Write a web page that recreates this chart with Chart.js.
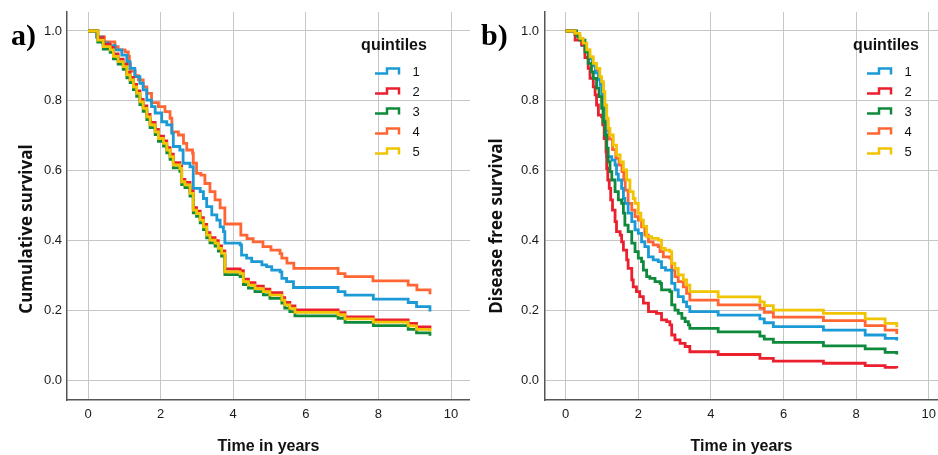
<!DOCTYPE html>
<html>
<head>
<meta charset="utf-8">
<script src="https://cdn.jsdelivr.net/npm/chart.js@4.4.0/dist/chart.umd.min.js"></script>
<style>
  body { margin: 0; background: #fff; }
  #wrap { position: relative; width: 938px; height: 455px; }
  #wrap canvas { position: absolute; top: 0; }
</style>
</head>
<body>
<div id="wrap">
  <canvas id="chartA" width="470" height="455" style="left:0"></canvas>
  <canvas id="chartB" width="468" height="455" style="left:470px"></canvas>
</div>
<script>
// quintile labels and colours
const quintiles = ["1", "2", "3", "4", "5"];
const colors = ["#1b9ad6", "#ec1f2e", "#0f8a3c", "#ff6633", "#f0c400"];

// a) cumulative survival, [years, survival]
const survA1 = [[0,1],[0.24,0.982],[0.4,0.966],[0.56,0.958],[0.75,0.946],[0.93,0.931],[1.07,0.912],[1.16,0.893],[1.29,0.869],[1.43,0.85],[1.52,0.831],[1.62,0.802],[1.75,0.783],[1.85,0.765],[2.03,0.74],[2.17,0.731],[2.31,0.707],[2.35,0.669],[2.53,0.659],[2.62,0.621],[2.81,0.611],[2.9,0.549],[3.09,0.54],[3.18,0.52],[3.27,0.497],[3.41,0.473],[3.55,0.458],[3.64,0.439],[3.73,0.425],[3.77,0.392],[4.19,0.387],[4.23,0.358],[4.37,0.349],[4.51,0.339],[4.79,0.33],[4.92,0.325],[5.06,0.315],[5.29,0.31],[5.34,0.291],[5.47,0.282],[5.66,0.265],[6.89,0.253],[7.08,0.243],[7.86,0.232],[8.82,0.222],[9.05,0.21],[9.42,0.196]];
const survA2 = [[0,1],[0.27,0.98],[0.42,0.962],[0.61,0.953],[0.7,0.934],[0.83,0.919],[0.97,0.905],[1.07,0.881],[1.16,0.867],[1.25,0.847],[1.34,0.828],[1.43,0.804],[1.52,0.785],[1.62,0.761],[1.71,0.738],[1.85,0.718],[1.94,0.699],[2.08,0.685],[2.17,0.666],[2.26,0.647],[2.35,0.623],[2.53,0.613],[2.58,0.575],[2.67,0.566],[2.81,0.542],[2.9,0.494],[2.99,0.484],[3.09,0.465],[3.18,0.446],[3.27,0.422],[3.36,0.408],[3.5,0.399],[3.59,0.384],[3.68,0.37],[3.77,0.318],[4.19,0.313],[4.28,0.289],[4.42,0.279],[4.6,0.269],[4.83,0.26],[5.01,0.25],[5.34,0.236],[5.42,0.222],[5.56,0.212],[5.7,0.201],[6.89,0.193],[7.08,0.181],[7.86,0.172],[8.82,0.162],[9.05,0.152],[9.42,0.147]];
const survA3 = [[0,1],[0.27,0.968],[0.42,0.948],[0.61,0.939],[0.7,0.92],[0.83,0.905],[0.97,0.89],[1.07,0.866],[1.16,0.852],[1.25,0.832],[1.34,0.813],[1.43,0.789],[1.52,0.77],[1.62,0.746],[1.71,0.723],[1.85,0.703],[1.94,0.684],[2.08,0.67],[2.17,0.651],[2.26,0.632],[2.35,0.608],[2.53,0.598],[2.58,0.56],[2.67,0.551],[2.81,0.527],[2.9,0.479],[2.99,0.469],[3.09,0.45],[3.18,0.431],[3.27,0.407],[3.36,0.393],[3.5,0.384],[3.59,0.369],[3.68,0.355],[3.77,0.302],[4.19,0.296],[4.28,0.273],[4.42,0.263],[4.6,0.253],[4.83,0.244],[5.01,0.234],[5.34,0.22],[5.42,0.206],[5.56,0.196],[5.7,0.184],[6.89,0.177],[7.08,0.165],[7.86,0.156],[8.82,0.145],[9.05,0.135],[9.42,0.127]];
const survA4 = [[0,1],[0.24,0.984],[0.45,0.969],[0.74,0.955],[0.83,0.946],[1.02,0.94],[1.11,0.927],[1.14,0.905],[1.17,0.885],[1.3,0.872],[1.39,0.86],[1.52,0.84],[1.62,0.821],[1.75,0.795],[1.94,0.783],[2.12,0.769],[2.26,0.75],[2.31,0.711],[2.49,0.702],[2.63,0.678],[2.72,0.659],[2.88,0.65],[2.9,0.621],[2.99,0.592],[3.11,0.587],[3.22,0.563],[3.36,0.54],[3.5,0.516],[3.64,0.493],[3.77,0.447],[4.21,0.415],[4.38,0.405],[4.55,0.396],[4.82,0.382],[5.04,0.372],[5.29,0.362],[5.34,0.349],[5.48,0.335],[5.67,0.32],[6.89,0.305],[7.08,0.296],[7.85,0.284],[8.82,0.272],[9.06,0.258],[9.42,0.246]];
const survA5 = [[0,1],[0.27,0.974],[0.42,0.955],[0.61,0.946],[0.7,0.927],[0.83,0.912],[0.97,0.898],[1.07,0.874],[1.16,0.86],[1.25,0.84],[1.34,0.821],[1.43,0.797],[1.52,0.778],[1.62,0.754],[1.71,0.731],[1.85,0.711],[1.94,0.692],[2.08,0.678],[2.17,0.659],[2.26,0.64],[2.35,0.616],[2.53,0.606],[2.58,0.568],[2.67,0.559],[2.81,0.535],[2.9,0.487],[2.99,0.477],[3.09,0.458],[3.18,0.439],[3.27,0.415],[3.36,0.401],[3.5,0.392],[3.59,0.377],[3.68,0.363],[3.77,0.31],[4.19,0.305],[4.28,0.282],[4.42,0.272],[4.6,0.262],[4.83,0.253],[5.01,0.243],[5.34,0.229],[5.42,0.215],[5.56,0.205],[5.7,0.194],[6.89,0.187],[7.08,0.175],[7.86,0.166],[8.82,0.155],[9.05,0.145],[9.42,0.139]];

// b) disease free survival, [years, survival]
const dfsB1 = [[0,1],[0.26,0.99],[0.36,0.975],[0.45,0.958],[0.55,0.94],[0.64,0.92],[0.73,0.9],[0.82,0.88],[0.9,0.86],[0.95,0.845],[1.0,0.815],[1.04,0.775],[1.08,0.735],[1.11,0.69],[1.13,0.64],[1.27,0.63],[1.36,0.616],[1.4,0.59],[1.45,0.573],[1.54,0.549],[1.59,0.52],[1.63,0.506],[1.72,0.478],[1.82,0.454],[1.91,0.43],[2.0,0.42],[2.09,0.396],[2.18,0.382],[2.28,0.353],[2.41,0.344],[2.55,0.339],[2.64,0.322],[2.75,0.315],[2.92,0.277],[3.01,0.258],[3.1,0.239],[3.24,0.224],[3.33,0.21],[3.42,0.196],[4.2,0.186],[5.35,0.175],[5.47,0.164],[5.72,0.153],[7.1,0.143],[8.25,0.129],[8.8,0.119],[9.12,0.113]];
const dfsB2 = [[0,1],[0.26,0.974],[0.44,0.96],[0.53,0.924],[0.62,0.893],[0.67,0.864],[0.76,0.84],[0.81,0.817],[0.85,0.788],[0.9,0.759],[0.99,0.754],[1.02,0.731],[1.06,0.692],[1.11,0.654],[1.13,0.606],[1.16,0.573],[1.2,0.549],[1.24,0.516],[1.29,0.487],[1.36,0.454],[1.4,0.425],[1.5,0.415],[1.54,0.396],[1.59,0.372],[1.68,0.344],[1.72,0.32],[1.82,0.287],[1.86,0.267],[1.95,0.253],[2.04,0.239],[2.14,0.22],[2.28,0.196],[2.5,0.191],[2.64,0.172],[2.78,0.167],[2.87,0.158],[2.92,0.129],[3.01,0.115],[3.15,0.105],[3.29,0.096],[3.42,0.081],[4.2,0.073],[5.35,0.062],[5.72,0.054],[7.1,0.048],[8.25,0.041],[8.8,0.036],[9.12,0.034]];
const dfsB3 = [[0,1],[0.3,0.985],[0.39,0.974],[0.53,0.94],[0.62,0.907],[0.71,0.883],[0.76,0.864],[0.85,0.836],[0.92,0.812],[0.99,0.778],[1.03,0.74],[1.08,0.702],[1.13,0.664],[1.17,0.625],[1.22,0.597],[1.27,0.573],[1.36,0.54],[1.45,0.516],[1.54,0.506],[1.59,0.478],[1.63,0.444],[1.72,0.425],[1.82,0.392],[1.91,0.368],[2.0,0.349],[2.09,0.339],[2.14,0.315],[2.23,0.296],[2.32,0.291],[2.46,0.282],[2.6,0.277],[2.64,0.258],[2.87,0.253],[2.92,0.215],[3.01,0.2],[3.1,0.191],[3.2,0.177],[3.29,0.167],[3.38,0.158],[3.42,0.148],[4.2,0.138],[5.35,0.126],[5.47,0.117],[5.72,0.108],[7.1,0.098],[8.25,0.089],[8.8,0.079],[9.12,0.073]];
const dfsB4 = [[0,1],[0.26,0.99],[0.35,0.976],[0.45,0.96],[0.55,0.945],[0.65,0.925],[0.74,0.905],[0.83,0.888],[0.92,0.866],[0.98,0.85],[1.03,0.82],[1.07,0.78],[1.12,0.745],[1.16,0.715],[1.2,0.69],[1.29,0.66],[1.38,0.635],[1.47,0.616],[1.55,0.597],[1.6,0.573],[1.64,0.544],[1.72,0.506],[1.82,0.487],[1.91,0.468],[2.0,0.458],[2.09,0.439],[2.18,0.415],[2.28,0.396],[2.41,0.387],[2.55,0.382],[2.6,0.368],[2.69,0.353],[2.87,0.349],[2.92,0.315],[3.01,0.296],[3.1,0.282],[3.24,0.267],[3.33,0.248],[3.42,0.229],[4.2,0.215],[5.35,0.205],[5.47,0.194],[5.72,0.18],[7.1,0.17],[8.25,0.156],[8.8,0.143],[9.12,0.132]];
const dfsB5 = [[0,1],[0.26,0.993],[0.39,0.979],[0.48,0.965],[0.58,0.946],[0.67,0.926],[0.76,0.907],[0.85,0.893],[0.94,0.869],[0.99,0.855],[1.04,0.826],[1.08,0.788],[1.13,0.75],[1.17,0.721],[1.22,0.702],[1.31,0.673],[1.4,0.645],[1.5,0.625],[1.59,0.602],[1.68,0.573],[1.77,0.54],[1.86,0.52],[1.91,0.506],[2.0,0.478],[2.07,0.458],[2.14,0.44],[2.23,0.411],[2.37,0.406],[2.55,0.401],[2.64,0.377],[2.74,0.372],[2.87,0.368],[2.92,0.334],[3.01,0.32],[3.1,0.301],[3.24,0.287],[3.33,0.272],[3.42,0.253],[4.2,0.238],[5.35,0.224],[5.47,0.213],[5.72,0.2],[7.1,0.191],[8.25,0.175],[8.8,0.162],[9.12,0.151]];

// axis tick values
const yTicks = [0, 0.2, 0.4, 0.6, 0.8, 1.0];
const xTicks = [0, 2, 4, 6, 8, 10];

const drawOrder = [3, 2, 1, 4, 0]; // yellow on top

function buildDatasets(series) {
  return series.map((data, i) => ({
    label: quintiles[i],
    data: data,
    stepped: true,
    borderColor: colors[i],
    borderWidth: 2.8,
    pointRadius: 0,
    fill: false,
    order: drawOrder[i],
  }));
}

// panel letter, y title and the "quintiles" legend
function overlay(panel, yTitle, yTitleY, legendX) {
  return {
    id: "overlay",
    afterDraw(chart) {
      const ctx = chart.ctx;
      ctx.save();
      ctx.fillStyle = "#000";
      ctx.font = 'bold 30px "Liberation Serif"';
      ctx.textAlign = "left";
      ctx.textBaseline = "alphabetic";
      ctx.fillText(panel, 11, 45);

      ctx.save();
      ctx.translate(27, yTitleY);
      ctx.rotate(-Math.PI / 2);
      ctx.fillStyle = "#111";
      ctx.font = 'bold 17px "Open Sans"';
      ctx.textAlign = "center";
      ctx.textBaseline = "middle";
      ctx.fillText(yTitle, 0, 0);
      ctx.restore();

      ctx.fillStyle = "#111";
      ctx.font = 'bold 16px "Liberation Sans"';
      ctx.textAlign = "center";
      ctx.textBaseline = "middle";
      ctx.fillText("quintiles", legendX + 19, 46);

      ctx.font = '13px "Liberation Sans"';
      chart.data.datasets.forEach((ds, i) => {
        const y = 72 + i * 20;
        const x0 = legendX;
        ctx.strokeStyle = ds.borderColor;
        ctx.lineWidth = 2.5;
        ctx.beginPath();
        ctx.moveTo(x0, y + 1.5);
        ctx.lineTo(x0 + 12, y + 1.5);
        ctx.lineTo(x0 + 12, y - 3.5);
        ctx.lineTo(x0 + 24, y - 3.5);
        ctx.lineTo(x0 + 24, y + 2.5);
        ctx.stroke();
        ctx.fillStyle = "#111";
        ctx.fillText(ds.label, x0 + 41, y);
      });
      ctx.restore();
    },
  };
}

function makeChart(id, series, opts) {
  const ctx = document.getElementById(id).getContext("2d");
  return new Chart(ctx, {
    type: "line",
    data: { datasets: buildDatasets(series) },
    options: {
      responsive: false,
      animation: false,
      devicePixelRatio: 1,
      layout: { padding: { top: 12, left: 0, right: 0, bottom: 0 } },
      plugins: { legend: { display: false }, tooltip: { enabled: false } },
      scales: {
        x: {
          type: "linear",
          min: opts.xMin,
          max: opts.xMax,
          afterFit: (s) => {
            s.height = 55;
            s.paddingLeft = 0;
            s.paddingRight = 0;
          },
          afterBuildTicks: (s) => { s.ticks = xTicks.map((v) => ({ value: v })); },
          grid: { color: "#c6c6c6", lineWidth: 1, drawTicks: false },
          border: { color: "#555", width: 1.5 },
          ticks: {
            padding: 7,
            color: "#1a1a1a",
            font: { family: "Liberation Sans", size: 13 },
            maxRotation: 0,
          },
          title: {
            display: true,
            text: "Time in years",
            color: "#111",
            padding: 0,
            font: { family: "Liberation Sans", size: 16, weight: "bold", lineHeight: 1 },
          },
        },
        y: {
          min: -0.0573,
          max: 1.0544,
          afterFit: (s) => {
            s.width = opts.yWidth;
            s.paddingTop = 0;
            s.paddingBottom = 0;
          },
          afterBuildTicks: (s) => { s.ticks = yTicks.map((v) => ({ value: v })); },
          grid: { color: "#c6c6c6", lineWidth: 1, drawTicks: false },
          border: { color: "#555", width: 1.5 },
          ticks: {
            padding: opts.yPad,
            color: "#1a1a1a",
            font: { family: "Liberation Sans", size: 13 },
            callback: (v) => v.toFixed(1),
          },
        },
      },
    },
    plugins: [overlay(opts.panel, opts.yTitle, opts.yTitleY, opts.legendX)],
  });
}

makeChart("chartA", [survA1, survA2, survA3, survA4, survA5], {
  panel: "a)",
  yTitle: "Cumulative survival",
  yTitleY: 229,
  legendX: 375,
  yWidth: 67,
  yPad: 5,
  xMin: -0.5785,
  xMax: 10.523,
});

makeChart("chartB", [dfsB1, dfsB2, dfsB3, dfsB4, dfsB5], {
  panel: "b)",
  yTitle: "Disease free survival",
  yTitleY: 226,
  legendX: 397,
  yWidth: 75,
  yPad: 6,
  xMin: -0.57,
  xMax: 10.256,
});
</script>
</body>
</html>
